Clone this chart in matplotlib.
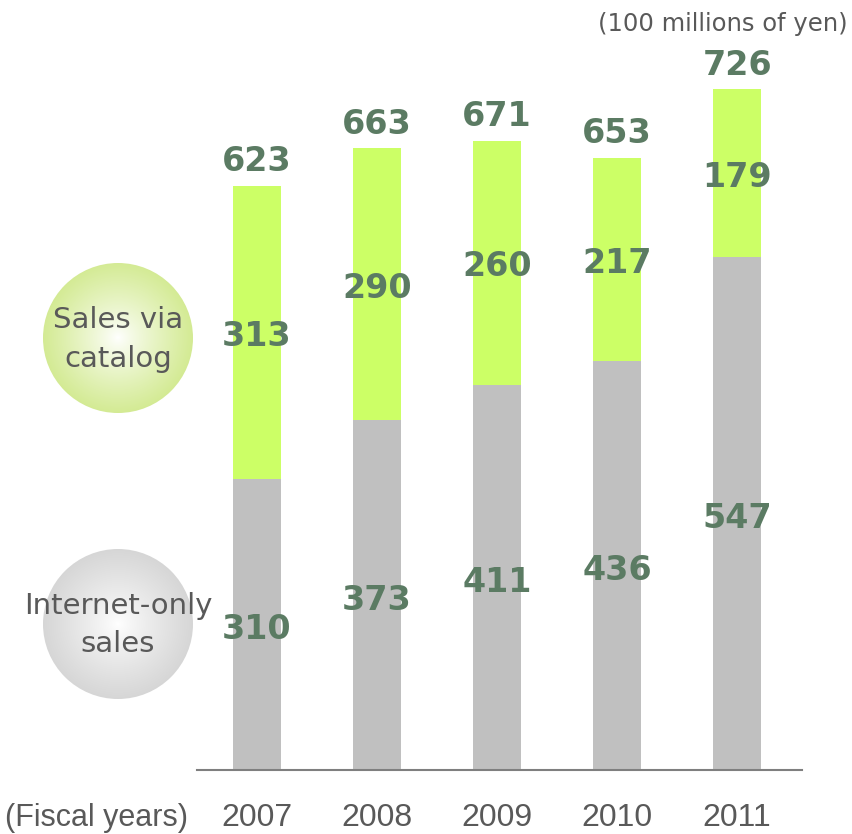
import numpy as np
import matplotlib.pyplot as plt
from matplotlib.patches import Circle

years = ["2007", "2008", "2009", "2010", "2011"]
internet_only = [310, 373, 411, 436, 547]
catalog = [313, 290, 260, 217, 179]
totals = [623, 663, 671, 653, 726]

num_color = "#5b7b63"
text_color = "#595959"
green = "#ccff66"
grey = "#c0c0c0"

W, H = 853, 834
fig = plt.figure(figsize=(W / 100, H / 100), dpi=100)

# background layer in pixel coordinates for the legend bubbles and captions
bg = fig.add_axes([0, 0, 1, 1])
bg.set_xlim(0, W)
bg.set_ylim(H, 0)
bg.axis("off")

# main bar chart
ax = fig.add_axes([197 / W, 64 / H, 605 / W, 750 / H])
ax.set_xlim(-0.5, 4.54)
ax.set_ylim(0, 800)
ax.patch.set_alpha(0)

x = np.arange(len(years))
ax.bar(x, internet_only, width=0.4, color=grey)
ax.bar(x, catalog, width=0.4, bottom=internet_only, color=green)

px = 800 / 750  # data units per pixel
lbl = dict(ha="center", va="center", fontsize=24, fontweight="bold", color=num_color)
for i in range(len(years)):
    ax.text(x[i], internet_only[i] / 2 - 5 * px, str(internet_only[i]), **lbl)
    ax.text(x[i], internet_only[i] + catalog[i] / 2 - 4 * px, str(catalog[i]), **lbl)
    ax.text(x[i], totals[i] + 24 * px, str(totals[i]), **lbl)

for s in ["top", "right", "left"]:
    ax.spines[s].set_visible(False)
ax.spines["bottom"].set_color("#7f7f7f")
ax.spines["bottom"].set_linewidth(1.5)
ax.set_yticks([])
ax.set_xticks(x)
ax.set_xticklabels(years, family="Liberation Sans", fontsize=23, color=text_color)
ax.tick_params(axis="x", length=0, pad=24)

bg.text(5, 818, "(Fiscal years)", family="Liberation Sans",
        fontsize=22, color=text_color, ha="left", va="center")
bg.text(848, 24, "(100 millions of yen)", fontsize=17.5, color=text_color,
        ha="right", va="center")


def bubble(cx, cy, r, edge_rgb, label):
    n = 200
    g = np.linspace(-1, 1, n)
    xx, yy = np.meshgrid(g, g)
    d = np.clip(np.sqrt(xx ** 2 + yy ** 2), 0, 1) ** 0.85
    img = np.ones((n, n, 3))
    for c in range(3):
        img[..., c] = 1 + (edge_rgb[c] - 1) * d
    im = bg.imshow(img, extent=(cx - r, cx + r, cy + r, cy - r), zorder=1)
    clip = Circle((cx, cy), r, transform=bg.transData)
    im.set_clip_path(clip)
    bg.text(cx, cy + 1, label, ha="center", va="center", fontsize=21,
            color=text_color, linespacing=1.5, zorder=2)


bubble(118, 338, 75, (0.83, 0.92, 0.58), "Sales via\ncatalog")
bubble(118, 624, 75, (0.84, 0.84, 0.84), "Internet-only\nsales")

bg.set_xlim(0, W)
bg.set_ylim(H, 0)

fig.savefig("out.png", dpi=100)
